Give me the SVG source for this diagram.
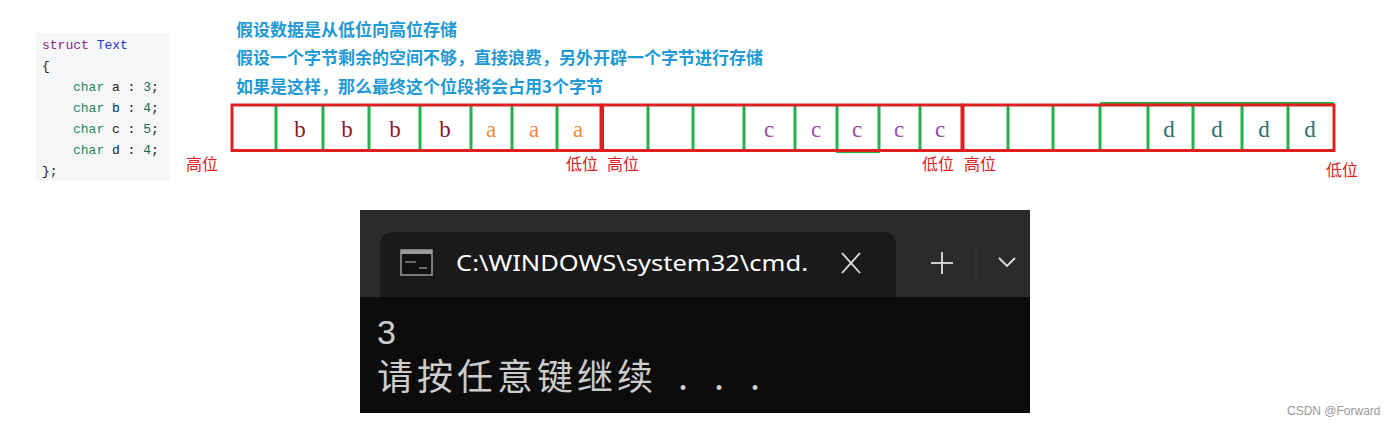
<svg xmlns="http://www.w3.org/2000/svg" width="1400" height="426" viewBox="0 0 1400 426">
<style>
.code{font-family:"Liberation Mono","DejaVu Sans Mono",monospace;font-size:13px;fill:#222}
.kw{fill:#8a1f92}.ty{fill:#2233cc}.ch{fill:#1f8a66}.num{fill:#1c6b4a}
.note{font-family:"Noto Sans CJK SC",sans-serif;font-size:17px;font-weight:bold;fill:#1f9ad6}
.pos{font-family:"Noto Sans CJK SC",sans-serif;font-size:16px;fill:#e02020}
.bit{font-family:"Liberation Serif",serif;font-size:23px;text-anchor:middle}
.byte{fill:none;stroke:#e02020;stroke-width:3}
.div{stroke:#22b14c;stroke-width:3}
.term{fill:#cccccc}
</style>
<rect width="1400" height="426" fill="#ffffff"/>

<g id="code">
<rect x="36" y="33" width="134" height="148" fill="#f6f7f9"/>
<text class="code" x="42" y="49"><tspan class="kw">struct</tspan> <tspan class="ty">Text</tspan></text>
<text class="code" x="42" y="70">{</text>
<text class="code" x="73" y="91"><tspan class="ch">char</tspan> a : <tspan class="num">3</tspan>;</text>
<text class="code" x="73" y="112"><tspan class="ch">char</tspan> b : <tspan class="num">4</tspan>;</text>
<text class="code" x="73" y="133"><tspan class="ch">char</tspan> c : <tspan class="num">5</tspan>;</text>
<text class="code" x="73" y="154"><tspan class="ch">char</tspan> d : <tspan class="num">4</tspan>;</text>
<text class="code" x="42" y="175">};</text>
</g>

<g id="notes">
<text class="note" x="236" y="36">假设数据是从低位向高位存储</text>
<text class="note" x="236" y="64">假设一个字节剩余的空间不够，直接浪费，另外开辟一个字节进行存储</text>
<text class="note" x="236" y="93">如果是这样，那么最终这个位段将会占用3个字节</text>
</g>

<g id="byte1">
<line class="div" x1="276" y1="105" x2="276" y2="150"/>
<line class="div" x1="323" y1="105" x2="323" y2="150"/>
<line class="div" x1="369" y1="105" x2="369" y2="150"/>
<line class="div" x1="420" y1="105" x2="420" y2="150"/>
<line class="div" x1="471" y1="105" x2="471" y2="150"/>
<line class="div" x1="512" y1="105" x2="512" y2="150"/>
<line class="div" x1="557" y1="105" x2="557" y2="150"/>
<rect class="byte" x="232" y="105" width="369" height="45.5"/>
<text class="bit" x="300" y="137" fill="#8b1a2a">b</text>
<text class="bit" x="347" y="137" fill="#8b1a2a">b</text>
<text class="bit" x="395" y="137" fill="#8b1a2a">b</text>
<text class="bit" x="445" y="137" fill="#8b1a2a">b</text>
<text class="bit" x="491" y="137" fill="#f08a3a">a</text>
<text class="bit" x="534" y="137" fill="#f08a3a">a</text>
<text class="bit" x="578" y="137" fill="#f08a3a">a</text>
</g>

<g id="byte2">
<rect x="837" y="105" width="42" height="47" fill="none" stroke="#22b14c" stroke-width="2"/>
<line class="div" x1="648" y1="105" x2="648" y2="150"/>
<line class="div" x1="693" y1="105" x2="693" y2="150"/>
<line class="div" x1="744" y1="105" x2="744" y2="150"/>
<line class="div" x1="795" y1="105" x2="795" y2="150"/>
<line class="div" x1="837" y1="105" x2="837" y2="150"/>
<line class="div" x1="879" y1="105" x2="879" y2="150"/>
<line class="div" x1="920" y1="105" x2="920" y2="150"/>
<rect class="byte" x="602.5" y="105" width="359.5" height="45.5"/>
<text class="bit" x="769" y="137" fill="#9a4fae">c</text>
<text class="bit" x="816" y="137" fill="#9a4fae">c</text>
<text class="bit" x="857" y="137" fill="#9a4fae">c</text>
<text class="bit" x="899" y="137" fill="#9a4fae">c</text>
<text class="bit" x="940" y="137" fill="#9a4fae">c</text>
</g>

<g id="byte3">
<line x1="1100" y1="103" x2="1334" y2="103" stroke="#22b14c" stroke-width="2"/>
<line class="div" x1="1008" y1="105" x2="1008" y2="150"/>
<line class="div" x1="1053" y1="105" x2="1053" y2="150"/>
<line class="div" x1="1100" y1="105" x2="1100" y2="150"/>
<line class="div" x1="1148" y1="105" x2="1148" y2="150"/>
<line class="div" x1="1193" y1="105" x2="1193" y2="150"/>
<line class="div" x1="1242" y1="105" x2="1242" y2="150"/>
<line class="div" x1="1288" y1="105" x2="1288" y2="150"/>
<rect class="byte" x="963" y="105" width="371" height="45.5"/>
<text class="bit" x="1169" y="137" fill="#2f6f72">d</text>
<text class="bit" x="1217" y="137" fill="#2f6f72">d</text>
<text class="bit" x="1264" y="137" fill="#2f6f72">d</text>
<text class="bit" x="1310" y="137" fill="#2f6f72">d</text>
</g>

<g id="labels">
<text class="pos" x="186" y="170">高位</text>
<text class="pos" x="566" y="170">低位</text>
<text class="pos" x="607" y="170">高位</text>
<text class="pos" x="922" y="170">低位</text>
<text class="pos" x="964" y="170">高位</text>
<text class="pos" x="1326" y="176">低位</text>
</g>

<g id="terminal">
<rect x="360" y="210" width="670" height="203" fill="#0c0c0c"/>
<rect x="360" y="210" width="670" height="87" fill="#2b2b2b"/>
<path d="M380 297 V246 Q380 232 394 232 H882 Q896 232 896 246 V297 Z" fill="#1a1a1a"/>
<rect x="360" y="297" width="670" height="116" fill="#0c0c0c"/>
<rect x="401" y="250" width="31" height="25" fill="#111" stroke="#9a9a9a" stroke-width="1.5"/>
<rect x="401" y="250" width="31" height="4" fill="#9a9a9a"/>
<line x1="405" y1="262" x2="416" y2="262" stroke="#bbb" stroke-width="1"/>
<line x1="419" y1="268" x2="427" y2="268" stroke="#bbb" stroke-width="1"/>
<text x="456" y="271" font-family="'Noto Sans', sans-serif" font-size="22" fill="#ffffff" textLength="352" lengthAdjust="spacingAndGlyphs">C:\WINDOWS\system32\cmd.</text>
<line x1="842" y1="253" x2="860" y2="273" stroke="#e0e0e0" stroke-width="1.8"/>
<line x1="860" y1="253" x2="842" y2="273" stroke="#e0e0e0" stroke-width="1.8"/>
<line x1="942" y1="252" x2="942" y2="274" stroke="#e0e0e0" stroke-width="1.8"/>
<line x1="931" y1="263" x2="953" y2="263" stroke="#e0e0e0" stroke-width="1.8"/>
<line x1="976" y1="244" x2="976" y2="284" stroke="#3c3c3c" stroke-width="1"/>
<polyline points="999,258 1007,266 1015,258" fill="none" stroke="#e0e0e0" stroke-width="1.8"/>
<text class="term" x="377" y="344" font-family="'Liberation Sans', sans-serif" font-size="34">3</text>
<text class="term" x="377" y="390" font-family="'Noto Sans CJK SC', sans-serif" font-size="36" letter-spacing="4">请按任意键继续<tspan x="678">.</tspan><tspan x="714">.</tspan><tspan x="750">.</tspan></text>
</g>

<text x="1287" y="415" font-family="Liberation Sans, Arial, sans-serif" font-size="12" fill="#999999">CSDN @Forward</text>
</svg>
